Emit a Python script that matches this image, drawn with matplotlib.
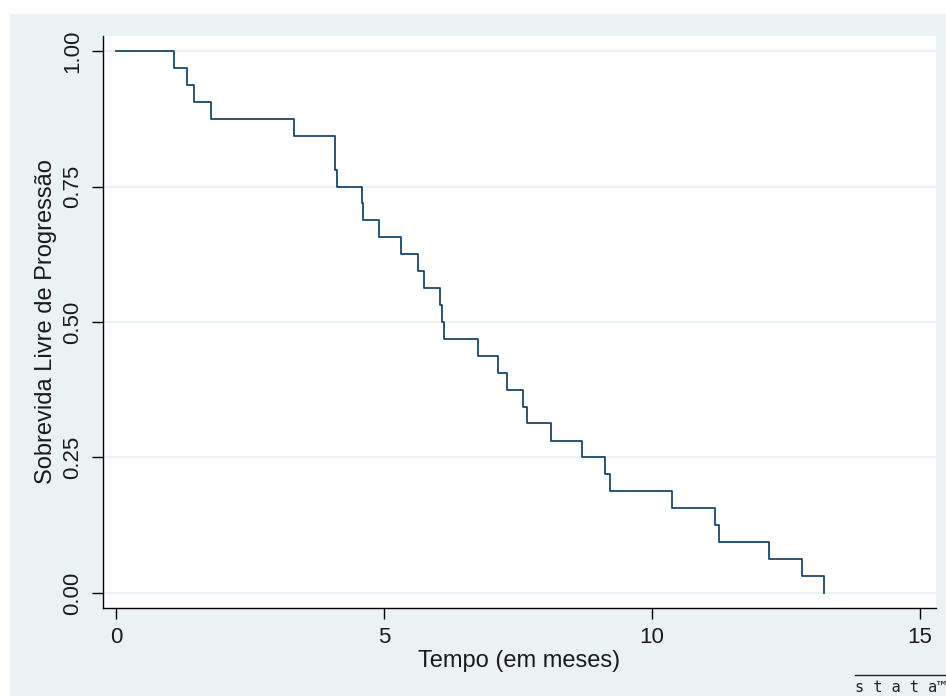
# km_plot.py - Kaplan-Meier curve, progression-free survival (Stata look)

import matplotlib
matplotlib.use("Agg")
import matplotlib.pyplot as plt
from matplotlib.patches import Rectangle
from matplotlib.lines import Line2D

# event times (months) and survival right after each event
times = [0.0, 1.073, 1.316, 1.452, 1.758, 3.313, 4.084, 4.110, 4.587, 4.607,
         4.906, 5.316, 5.634, 5.746, 6.033, 6.076, 6.108, 6.744, 7.116, 7.295,
         7.588, 7.657, 8.116, 8.695, 9.113, 9.222, 10.375, 11.167, 11.247,
         12.175, 12.802, 13.201]
surv = [1.000, 0.969, 0.938, 0.906, 0.875, 0.844, 0.781, 0.750, 0.719, 0.688,
        0.656, 0.625, 0.594, 0.563, 0.531, 0.500, 0.469, 0.438, 0.406, 0.375,
        0.344, 0.313, 0.281, 0.250, 0.219, 0.188, 0.156, 0.125, 0.094, 0.063,
        0.031, 0.000]

x_ticks = [0, 5, 10, 15]
y_ticks = [0.0, 0.25, 0.5, 0.75, 1.0]
y_labels = ["0.00", "0.25", "0.50", "0.75", "1.00"]

BG = "#EAF2F3"
LINE = "#1A476F"
W, H = 946, 696

plt.rcParams["font.family"] = ["Liberation Sans", "DejaVu Sans"]

fig = plt.figure(figsize=(W / 100, H / 100), dpi=100, facecolor="white")
# stata graph region (light blue), leaves a thin white margin top/left
fig.patches.append(Rectangle((10 / W, 0), 1 - 10 / W, 1 - 14 / H,
                             transform=fig.transFigure, facecolor=BG,
                             edgecolor="none", zorder=-10))

ax = fig.add_axes([103 / W, (H - 608) / H, 833 / W, 572 / H])
ax.set_zorder(2)
ax.set_facecolor("white")

ax.step(times, surv, where="post", color=LINE, lw=1.3, zorder=3)

ax.set_xlim(-0.252, 15.30)
ax.set_ylim(-0.0277, 1.0277)
ax.set_xticks(x_ticks)
ax.set_yticks(y_ticks)
ax.set_yticklabels(y_labels, rotation=90, va="center")
ax.grid(axis="y", color=BG, lw=1.4)
ax.grid(axis="x", visible=False)
ax.set_axisbelow(True)

for s in ["top", "right"]:
    ax.spines[s].set_visible(False)
for s in ["left", "bottom"]:
    ax.spines[s].set_color("black")
    ax.spines[s].set_linewidth(1.0)

ax.tick_params(direction="out", length=8, width=1.0, color="black",
               labelsize=16, labelcolor="#1a1a1a", pad=6)

fig.text(46 / W, 1 - 322 / H, "Sobrevida Livre de Progressão", rotation=90,
         ha="center", va="center", fontsize=17, color="#1a1a1a")
fig.text(519.5 / W, 1 - 661 / H, "Tempo (em meses)", ha="center",
         va="center", fontsize=17, color="#1a1a1a")

# stata logo, bottom right
fig.lines.append(Line2D([855 / W, 1.0], [1 - 675 / H, 1 - 675 / H],
                        transform=fig.transFigure, color="#222", lw=1.0))
fig.text(855 / W, 1 - 692 / H, "s t a t a™", ha="left", va="baseline",
         fontsize=11, family="DejaVu Sans Mono", color="#222")

fig.savefig("out.png", dpi=100, facecolor=fig.get_facecolor())
